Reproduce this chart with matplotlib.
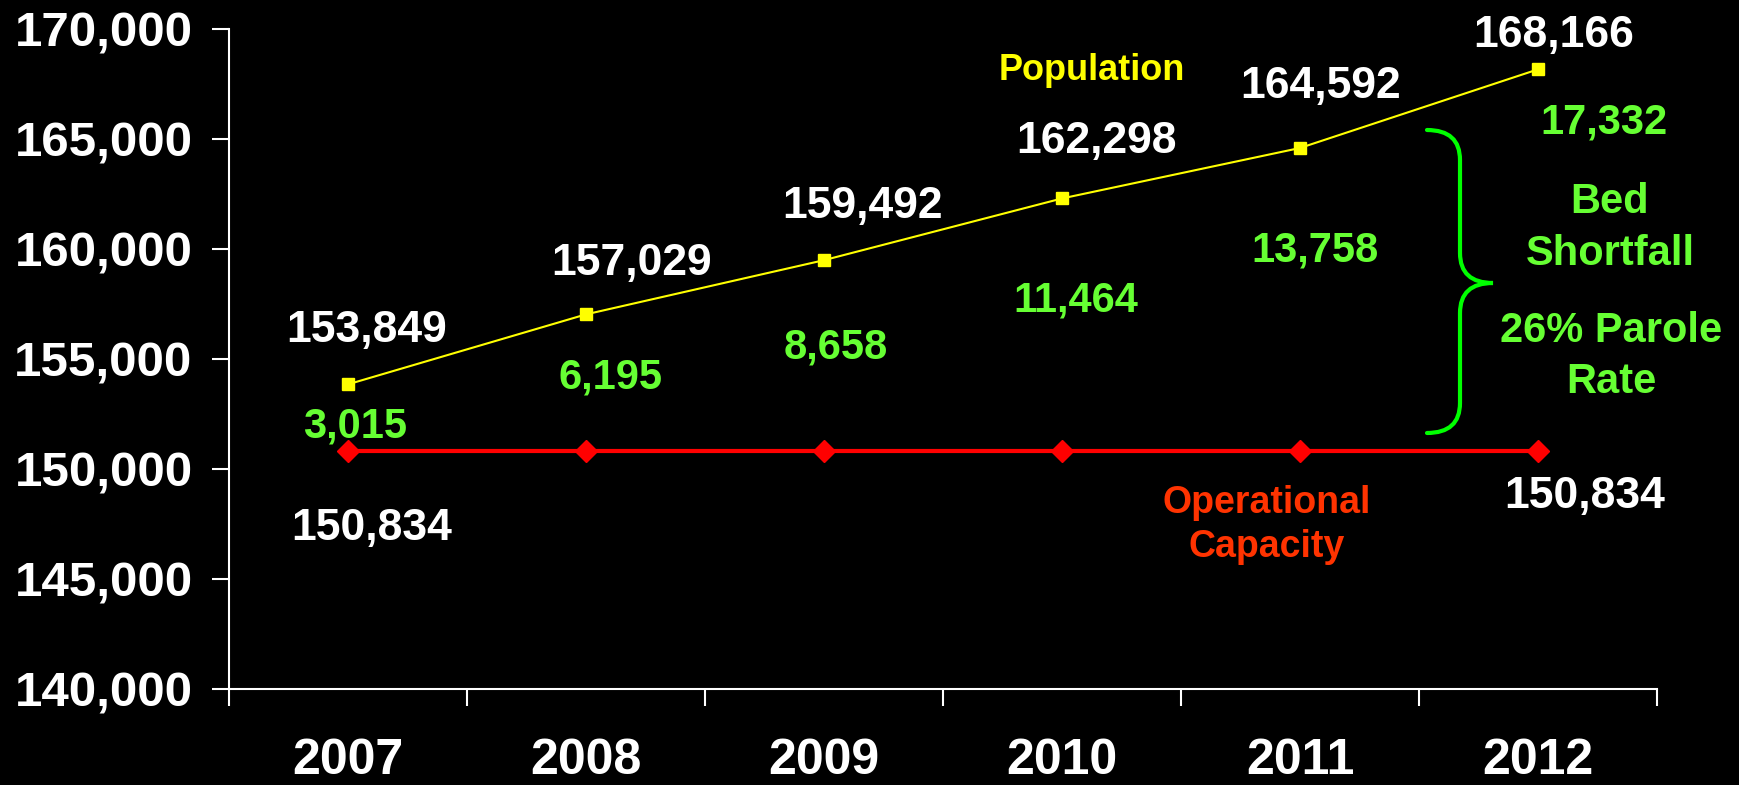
import matplotlib
matplotlib.use("Agg")
import matplotlib.pyplot as plt
from matplotlib.path import Path
from matplotlib.patches import PathPatch

# ---- Daten ----
years = ["2007", "2008", "2009", "2010", "2011", "2012"]
population = [153849, 157029, 159492, 162298, 164592, 168166]
capacity = [150834, 150834, 150834, 150834, 150834, 150834]
shortfall = [3015, 6195, 8658, 11464, 13758, 17332]
yticks = [140000, 145000, 150000, 155000, 160000, 165000, 170000]

# ---- Label-Versatz (Pixel, Basislinie) ----
pop_offsets = [(19, 42), (46, 39), (39, 42), (35, 45), (21, 50), (16, 22)]
short_offsets = [(7, -53), (25, -74), (12, -98), (14, -113), (15, -114), (66, -64)]
cap_offsets = {0: (24, -89), 5: (47, -57)}

W, H = 1740, 785
DPI = 100
FONT = "Liberation Sans"
WHITE = "#FFFFFF"
YELLOW = "#FFFF00"
RED = "#FF0000"
ORANGE = "#FF3300"
GREEN_TXT = "#66FF33"
GREEN_BRACE = "#00FF00"

plt.rcParams["font.family"] = [FONT, "DejaVu Sans"]
plt.rcParams["font.weight"] = "bold"

fig = plt.figure(figsize=(W / DPI, H / DPI), dpi=DPI, facecolor="black")
ax = fig.add_axes([229 / W, 1 - 689 / H, (1657 - 229) / W, (689 - 29) / H])
ax.set_facecolor("black")

x = list(range(len(years)))
ax.plot(x, population, color=YELLOW, lw=1.5, marker="s", ms=8.5,
        markerfacecolor=YELLOW, markeredgecolor=YELLOW, zorder=3)
ax.plot(x, capacity, color=RED, lw=3, marker="D", ms=11,
        markerfacecolor=RED, markeredgecolor=RED, zorder=3)

ax.set_xlim(-0.5, len(years) - 0.5)
ax.set_ylim(140000, 170000)

for s in ["top", "right"]:
    ax.spines[s].set_visible(False)
for s in ["left", "bottom"]:
    ax.spines[s].set_color(WHITE)
    ax.spines[s].set_linewidth(1.5)

ax.set_yticks(yticks)
ax.set_yticklabels([f"{v:,}" for v in yticks])
ax.tick_params(axis="y", colors=WHITE, length=12.2, width=1.5, pad=14,
               labelsize=35.5)

ax.set_xticks([i - 0.5 for i in range(len(years) + 1)])
ax.set_xticklabels([])
ax.set_xticks(x, minor=True)
ax.set_xticklabels(years, minor=True)
ax.tick_params(axis="x", which="major", colors=WHITE, length=12.2, width=1.5)
ax.tick_params(axis="x", which="minor", colors=WHITE, length=0, pad=35,
               labelsize=36)
for lab in ax.get_yticklabels() + ax.get_xticklabels(minor=True):
    lab.set_fontweight("bold")

# ---- Werte ----
for i, v in enumerate(population):
    dx, dy = pop_offsets[i]
    ax.annotate(f"{v:,}", (i, v), xytext=(dx, dy), textcoords="offset pixels",
                ha="center", va="baseline", color=WHITE, fontsize=32,
                fontweight="bold")
    sx, sy = short_offsets[i]
    ax.annotate(f"{shortfall[i]:,}", (i, v), xytext=(sx, sy),
                textcoords="offset pixels", ha="center", va="baseline",
                color=GREEN_TXT, fontsize=30, fontweight="bold")

for i, (dx, dy) in cap_offsets.items():
    ax.annotate(f"{capacity[i]:,}", (i, capacity[i]), xytext=(dx, dy),
                textcoords="offset pixels", ha="center", va="baseline",
                color=WHITE, fontsize=32, fontweight="bold")


def ftext(px, py, s, color, size):
    fig.text(px / W, 1 - py / H, s, ha="center", va="baseline", color=color,
             fontsize=size, fontweight="bold")


ftext(1092, 80, "Population", YELLOW, 26)
ftext(1267, 513, "Operational", ORANGE, 27)
ftext(1267, 557, "Capacity", ORANGE, 27)
ftext(1610, 213, "Bed", GREEN_TXT, 30)
ftext(1610, 265, "Shortfall", GREEN_TXT, 30)
ftext(1611, 342, "26% Parole", GREEN_TXT, 30)
ftext(1611, 393, "Rate", GREEN_TXT, 30)

# ---- geschweifte Klammer (in Pixel der Figur) ----
def px(xp, yp):
    return (xp / W, 1 - yp / H)

x0, x1, x2 = 1427, 1460, 1493
top, mid, bot, r = 130, 283, 433, 30
verts = [px(x0, top), px(x1, top), px(x1, top + r),
         px(x1, mid - r), px(x1, mid), px(x2, mid),
         px(x1, mid), px(x1, mid + r),
         px(x1, bot - r), px(x1, bot), px(x0, bot)]
codes = [Path.MOVETO, Path.CURVE3, Path.CURVE3,
         Path.LINETO, Path.CURVE3, Path.CURVE3,
         Path.CURVE3, Path.CURVE3,
         Path.LINETO, Path.CURVE3, Path.CURVE3]
brace = PathPatch(Path(verts, codes), transform=fig.transFigure,
                  fill=False, edgecolor=GREEN_BRACE, lw=3, capstyle="round")
fig.add_artist(brace)

fig.savefig("out.png", dpi=DPI, facecolor="black")
